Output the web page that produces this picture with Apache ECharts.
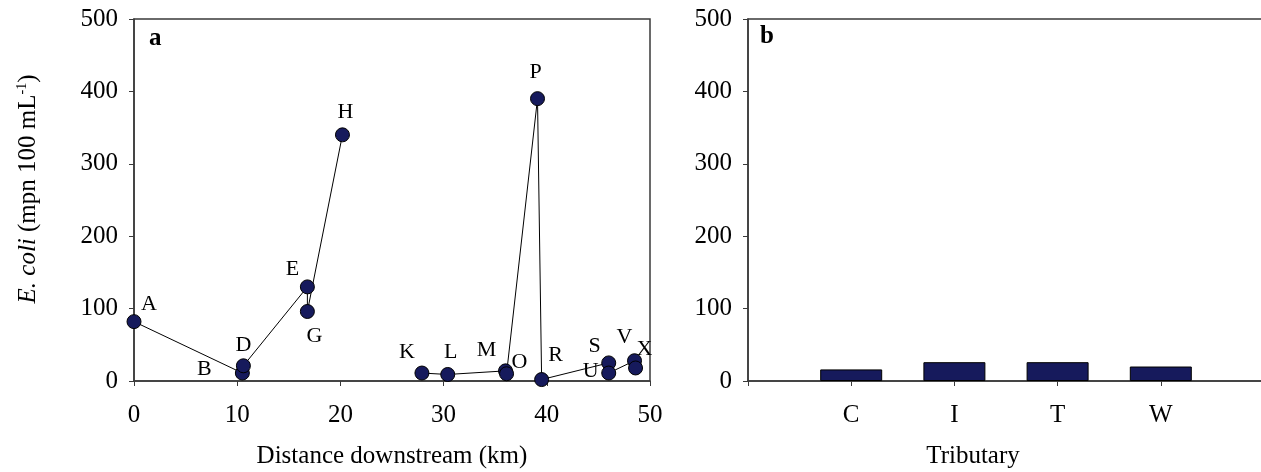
<!DOCTYPE html>
<html>
<head>
<meta charset="utf-8">
<script src="https://cdn.jsdelivr.net/npm/echarts@6/dist/echarts.min.js"></script>
<style>
  html, body { margin: 0; padding: 0; background: #fff; }
  #main { width: 1261px; height: 472px; }
</style>
</head>
<body>
<div id="main"></div>
<script>
// panel a: sites along the river
var sites = ['A', 'B', 'D', 'E', 'G', 'H', 'K', 'L', 'M', 'O', 'P', 'R', 'S', 'U', 'V', 'X'];
var distanceKm = [0, 10.5, 10.6, 16.8, 16.8, 20.2, 27.9, 30.4, 36.0, 36.1, 39.1, 39.5, 46.0, 46.0, 48.5, 48.6];
var ecoli = [82, 11, 21, 130, 96, 340, 11, 9, 14, 10, 390, 2, 25, 11, 28, 18];
var gapBefore = 'K'; // no line between H and K

// panel b: tributaries
var tributaries = ['C', 'I', 'T', 'W'];
var tribEcoli = [16, 26, 26, 20];

var yTicks = [0, 100, 200, 300, 400, 500];
var xTicks = [0, 10, 20, 30, 40, 50];

// label offsets (px) relative to each marker
var labelOffset = {
  A: [15, -17], B: [-38, -4], D: [0, -21], E: [-15, -18], G: [7, 25], H: [3, -23],
  K: [-15, -21], L: [3, -22], M: [-19, -21], O: [13, -12], P: [-2, -26], R: [14, -24],
  S: [-14, -17], U: [-18, -2], V: [-10, -24], X: [9, -19]
};

var font = "'Liberation Serif', 'Times New Roman', serif";
var navy = '#161a5c';
var axisCol = '#3a3a3a';
var fs = 25;

function pts(from, to) {
  var out = [];
  for (var i = from; i < to; i++) {
    out.push({
      value: [distanceKm[i], ecoli[i]],
      name: sites[i],
      label: { offset: labelOffset[sites[i]] }
    });
  }
  return out;
}
var cut = sites.indexOf(gapBefore);

var yAxisBase = {
  type: 'value',
  min: yTicks[0],
  max: yTicks[yTicks.length - 1],
  interval: yTicks[1] - yTicks[0],
  splitLine: { show: false },
  axisLine: { show: true, lineStyle: { color: axisCol, width: 1.5 } },
  axisTick: { show: true, length: 5, lineStyle: { color: axisCol } },
  axisLabel: { color: '#000', fontFamily: font, fontSize: fs, margin: 16 }
};

var lineSeries = function (data) {
  return {
    type: 'line',
    xAxisIndex: 0,
    yAxisIndex: 0,
    data: data,
    symbol: 'circle',
    symbolSize: 14,
    lineStyle: { color: '#000', width: 1 },
    itemStyle: { color: navy, borderColor: '#000', borderWidth: 1 },
    label: {
      show: true,
      position: 'inside',
      formatter: '{b}',
      color: '#000',
      fontFamily: font,
      fontSize: 22
    },
    emphasis: { disabled: true },
    animation: false,
    z: 3
  };
};

var myChart = echarts.init(document.getElementById('main'));

var option = {
  backgroundColor: '#fff',
  animation: false,
  grid: [
    { left: 134, top: 19, width: 516, height: 362, show: true, borderColor: axisCol, borderWidth: 1.5, outerBoundsMode: 'none' },
    { left: 748, top: 19, width: 516, height: 362, show: true, borderColor: axisCol, borderWidth: 1.5, outerBoundsMode: 'none' }
  ],
  xAxis: [
    {
      gridIndex: 0,
      type: 'value',
      min: xTicks[0],
      max: xTicks[xTicks.length - 1],
      interval: xTicks[1] - xTicks[0],
      splitLine: { show: false },
      axisLine: { show: true, lineStyle: { color: axisCol, width: 1.5 } },
      axisTick: { show: true, length: 5, lineStyle: { color: axisCol } },
      axisLabel: { color: '#000', fontFamily: font, fontSize: fs, margin: 22 },
      name: 'Distance downstream (km)',
      nameLocation: 'middle',
      nameGap: 63,
      nameTextStyle: { color: '#000', fontFamily: font, fontSize: fs }
    },
    {
      gridIndex: 1,
      type: 'category',
      boundaryGap: false,
      data: [''].concat(tributaries, ['']),
      splitLine: { show: false },
      axisLine: { show: true, lineStyle: { color: axisCol, width: 1.5 } },
      axisTick: { show: true, length: 5, lineStyle: { color: axisCol } },
      axisLabel: { color: '#000', fontFamily: font, fontSize: fs, margin: 22, interval: 0 },
      name: 'Tributary',
      nameLocation: 'middle',
      nameGap: 63,
      nameTextStyle: { color: '#000', fontFamily: font, fontSize: fs, padding: [0, 66, 0, 0] }
    }
  ],
  yAxis: [
    Object.assign({}, yAxisBase, {
      gridIndex: 0,
      name: '{it|E. coli} (mpn 100 mL{sup|-1})',
      nameLocation: 'middle',
      nameGap: 92,
      nameTextStyle: {
        color: '#000',
        fontFamily: font,
        fontSize: fs,
        padding: [0, 0, 0, 22],
        rich: {
          it: { fontStyle: 'italic', fontFamily: font, fontSize: fs, color: '#000' },
          sup: { fontFamily: font, fontSize: 14, color: '#000', padding: [0, 0, 13, 0] }
        }
      }
    }),
    Object.assign({}, yAxisBase, { gridIndex: 1 })
  ],
  graphic: [
    { type: 'text', left: 149, top: 26, style: { text: 'a', font: 'bold 25px ' + font, fill: '#000' } },
    { type: 'text', left: 760, top: 24, style: { text: 'b', font: 'bold 25px ' + font, fill: '#000' } }
  ],
  series: [
    lineSeries(pts(0, cut)),
    lineSeries(pts(cut, sites.length)),
    {
      type: 'bar',
      xAxisIndex: 1,
      yAxisIndex: 1,
      data: [null].concat(tribEcoli, [null]),
      barWidth: 62,
      itemStyle: { color: navy, borderColor: '#000', borderWidth: 1 },
      emphasis: { disabled: true }
    }
  ]
};

myChart.setOption(option);
</script>
</body>
</html>
